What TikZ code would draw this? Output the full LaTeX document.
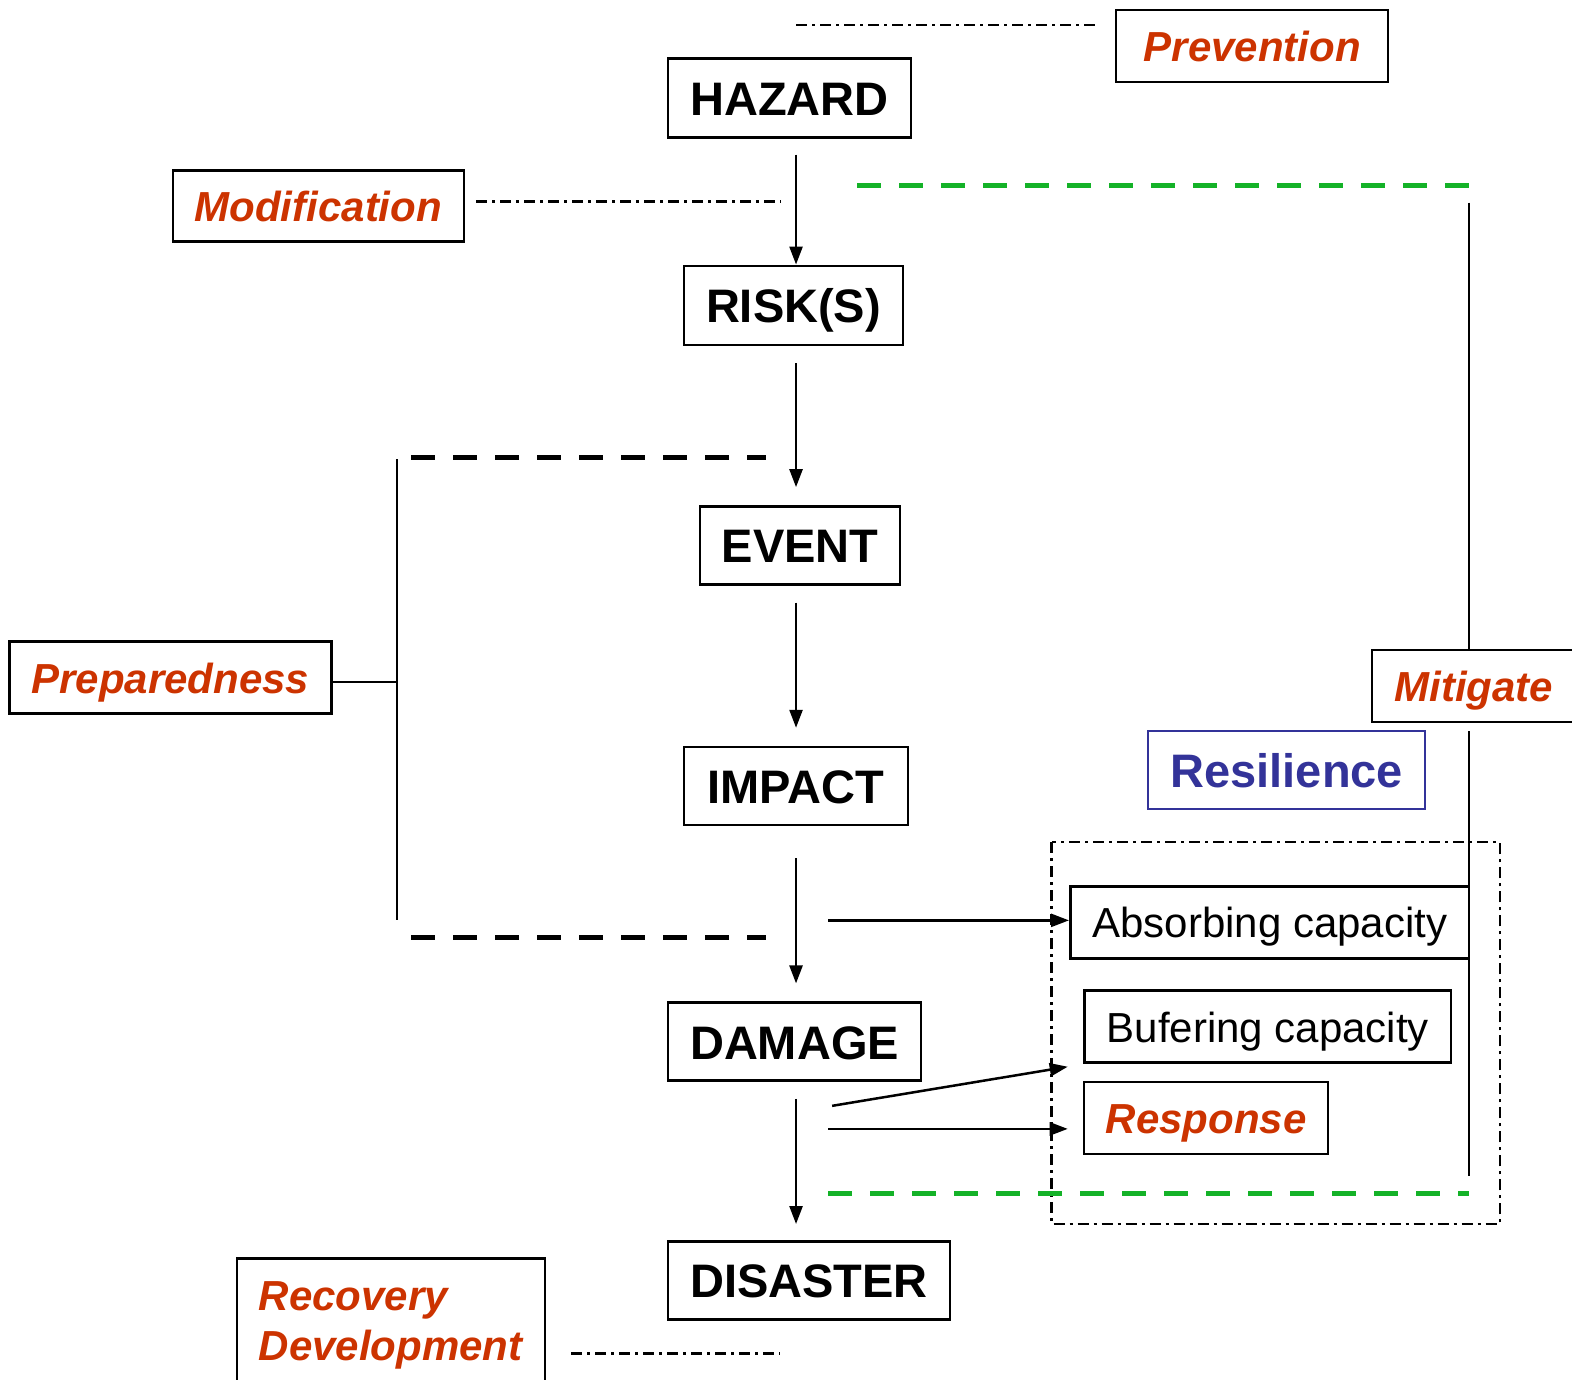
\documentclass[tikz,border=0pt]{standalone}
\usepackage{fontspec}
\setmainfont{Liberation Sans}
\usetikzlibrary{arrows.meta}
\definecolor{lred}{RGB}{204,51,0}
\definecolor{lgreen}{RGB}{20,178,40}
\definecolor{lblue}{RGB}{51,51,153}
\begin{document}
\begin{tikzpicture}[x=1.0026pt,y=-1.0026pt,
 mainbox/.style={draw,line width=2.5pt,inner sep=0pt,text height=35pt,text depth=0pt,font=\fontsize{47}{56}\selectfont\bfseries},
 redlbl/.style={draw,line width=2.5pt,inner sep=0pt,text=lred,text height=31pt,text depth=0pt,font=\fontsize{42}{50}\selectfont\bfseries\itshape},
 capbox/.style={draw,line width=2.5pt,inner sep=0pt,text height=31pt,text depth=0pt,font=\fontsize{42}{50}\selectfont},
 arr/.style={line width=2.5pt,-{Triangle[length=18pt,width=13pt]}},
 dashdot/.style={line width=2.5pt,dash pattern=on 11pt off 5pt on 3pt off 5pt},
 greendash/.style={line width=5pt,lgreen,dash pattern=on 24pt off 18pt},
 blackdash/.style={line width=5pt,dash pattern=on 24pt off 18pt},
 plain/.style={line width=2.5pt}]
\useasboundingbox (0,0) rectangle (1568,1376);
\coordinate (ax) at (794,0);
\coordinate (vx) at (1465,0);
\coordinate (vp) at (396,0);

% main chain
\node[mainbox,minimum width=243pt,minimum height=79pt] (hazard) at (787.5,97.5) {HAZARD};
\node[mainbox,minimum width=219pt,minimum height=79pt] (risk) at (791.5,304.5) {RISK(S)};
\node[mainbox,minimum width=200pt,minimum height=78pt] (event) at (798,544) {EVENT};
\node[mainbox,minimum width=224pt,minimum height=78pt] (impact) at (794,784) {IMPACT};
\node[mainbox,minimum width=253pt,minimum height=78pt] (damage) at (792.5,1039) {DAMAGE};
\node[mainbox,minimum width=282pt,minimum height=78pt] (disaster) at (807,1277) {DISASTER};

% labels
\node[redlbl,minimum width=272pt,minimum height=72pt] (prevention) at (1249,46) {Prevention};
\node[redlbl,minimum width=291pt,minimum height=71pt] (modification) at (317.5,205.5) {Modification};
\node[redlbl,minimum width=322pt,minimum height=72pt] (preparedness) at (170,676) {Preparedness};
\node[redlbl,minimum width=204pt,minimum height=72pt] (mitigate) at (1470,684) {Mitigate};
\node[draw=lblue,line width=2pt,inner sep=0pt,text=lblue,text height=35pt,text depth=0pt,font=\fontsize{47}{56}\selectfont\bfseries,minimum width=277pt,minimum height=78pt] (resilience) at (1283.5,768) {Resilience};
\node[draw,line width=2.5pt,text=lred,font=\fontsize{42}{50}\selectfont\bfseries\itshape,anchor=north west,align=left,inner xsep=22pt,inner ysep=23pt,text width=264pt] (recovery) at (235,1254) {Recovery\\Development\\\strut};

% resilience group
\draw[dashdot] (1049,840) rectangle (1496,1221);
\node[capbox,minimum width=399pt,minimum height=72pt] (absorb) at (1266.5,920) {Absorbing capacity};
\node[capbox,minimum width=367pt,minimum height=72pt] (bufer) at (1264.5,1024) {Bufering capacity};
\node[redlbl,minimum width=244pt,minimum height=72pt] (response) at (1203,1115) {Response};

% chain arrows
\draw[arr] ([yshift=-16pt]hazard.south -| ax) -- (risk.north -| ax);
\draw[arr] ([yshift=-17pt]risk.south -| ax) -- ([yshift=18pt]event.north -| ax);
\draw[arr] ([yshift=-17pt]event.south -| ax) -- ([yshift=18pt]impact.north -| ax);
\draw[arr] ([yshift=-32pt]impact.south -| ax) -- ([yshift=18pt]damage.north -| ax);
\draw[arr] ([yshift=-17pt]damage.south -| ax) -- ([yshift=16pt]disaster.north -| ax);

% dash-dot links
\coordinate (pvA) at (794,25); \coordinate (pvB) at (1097,25);
\draw[dashdot] (pvA) -- (pvB);
\coordinate (mdA) at (475,201); \coordinate (mdB) at (779,201);
\draw[dashdot] (mdA) -- (mdB);
\coordinate (rcA) at (570,1350); \coordinate (rcB) at (778,1350);
\draw[dashdot] (rcA) -- (rcB);

% mitigate bracket
\coordinate (gA) at (855,185); \coordinate (gB) at (1465,185);
\draw[greendash] (gA) -- (gB);
\coordinate (mtA) at (1465,202); \coordinate (mtB) at (1465,1173);
\draw[line width=2.5pt] (mtA) -- (mitigate.north -| vx);
\draw[line width=2.5pt] ([yshift=-8pt]mitigate.south -| vx) -- (mtB);
\coordinate (gC) at (826,1190); \coordinate (gD) at (1465,1190);
\draw[greendash] (gC) -- (gD);

% preparedness bracket
\coordinate (ppA) at (396,458); \coordinate (ppB) at (396,918);
\draw[plain] (ppA) -- (ppB);
\coordinate (prJ) at (396,680);
\draw[plain] (preparedness.east |- prJ) -- (prJ);
\coordinate (bdA) at (410,456); \coordinate (bdB) at (764,456);
\coordinate (bdC) at (410,935); \coordinate (bdD) at (764,935);
\draw[blackdash] (bdA) -- (bdB);
\draw[blackdash] (bdC) -- (bdD);

% resilience arrows
\coordinate (raA) at (826,918);
\draw[arr] (raA) -- (absorb.west |- raA);
\coordinate (rbA) at (830,1103); \coordinate (rbB) at (1065,1064);
\draw[arr] (rbA) -- (rbB);
\coordinate (rcC) at (826,1126); \coordinate (rcD) at (1065,1126);
\draw[arr] (rcC) -- (rcD);
\end{tikzpicture}
\end{document}
